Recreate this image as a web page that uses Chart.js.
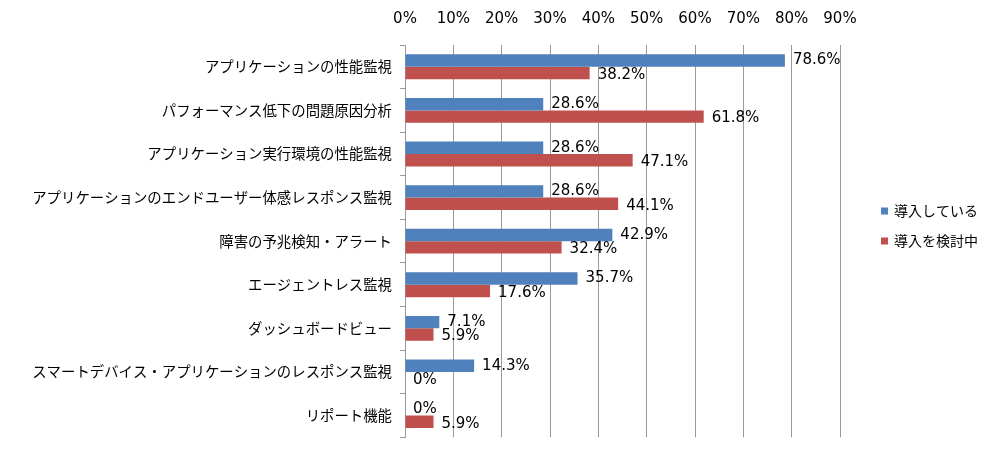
<!DOCTYPE html>
<html>
<head>
<meta charset="utf-8">
<script src="https://cdn.jsdelivr.net/npm/chart.js@4"></script>
<style>
html,body{margin:0;padding:0;background:#fff;}
#wrap{width:1000px;height:454px;position:relative;}
</style>
</head>
<body>
<div id="wrap"><canvas id="c" width="1000" height="454"></canvas></div>
<script>
const categories = [
  "アプリケーションの性能監視",
  "パフォーマンス低下の問題原因分析",
  "アプリケーション実行環境の性能監視",
  "アプリケーションのエンドユーザー体感レスポンス監視",
  "障害の予兆検知・アラート",
  "エージェントレス監視",
  "ダッシュボードビュー",
  "スマートデバイス・アプリケーションのレスポンス監視",
  "リポート機能"
];
const seriesNames = ["導入している", "導入を検討中"];
const introduced = [78.6, 28.6, 28.6, 28.6, 42.9, 35.7, 7.1, 14.3, 0];
const considering = [38.2, 61.8, 47.1, 44.1, 32.4, 17.6, 5.9, 0, 5.9];
const valueLabels = [
  ["78.6%","28.6%","28.6%","28.6%","42.9%","35.7%","7.1%","14.3%","0%"],
  ["38.2%","61.8%","47.1%","44.1%","32.4%","17.6%","5.9%","0%","5.9%"]
];
const xTicks = [0,10,20,30,40,50,60,70,80,90];

const labelPlugin = {
  id: 'valueLabels',
  afterDatasetsDraw(chart) {
    const ctx = chart.ctx;
    ctx.save();
    ctx.font = '15px "DejaVu Sans", Verdana, sans-serif';
    ctx.fillStyle = '#000';
    ctx.textAlign = 'left';
    ctx.textBaseline = 'middle';
    chart.data.datasets.forEach((ds, di) => {
      const meta = chart.getDatasetMeta(di);
      meta.data.forEach((bar, i) => {
        const dy = di === 0 ? 0 : 2;
        ctx.fillText(valueLabels[di][i], bar.x + 8, bar.y + dy);
      });
    });
    ctx.restore();
  }
};

const legendPlugin = {
  id: 'sideLegend',
  afterDraw(chart) {
    const ctx = chart.ctx;
    ctx.save();
    ctx.font = '14px "Noto Sans CJK JP", sans-serif';
    ctx.textAlign = 'left';
    ctx.textBaseline = 'middle';
    const x = 881, y0 = 211, step = 30, box = 7;
    chart.data.datasets.forEach((ds, di) => {
      const y = y0 + di * step;
      ctx.fillStyle = ds.backgroundColor;
      ctx.fillRect(x, y - box / 2, box, box);
      ctx.fillStyle = '#000';
      ctx.fillText(ds.label, x + box + 6, y);
    });
    ctx.restore();
  }
};

new Chart(document.getElementById('c'), {
  type: 'bar',
  data: {
    labels: categories,
    datasets: [
      { label: seriesNames[0], data: introduced, backgroundColor: '#4F81BD', borderWidth: 0 },
      { label: seriesNames[1], data: considering, backgroundColor: '#C0504D', borderWidth: 0 }
    ]
  },
  options: {
    indexAxis: 'y',
    responsive: false,
    animation: false,
    devicePixelRatio: 1,
    layout: { padding: { left: 0, right: 160, top: 0, bottom: 14 } },
    datasets: { bar: { categoryPercentage: 0.57, barPercentage: 1.0 } },
    scales: {
      x: {
        position: 'top',
        min: 0, max: 90,
        afterBuildTicks(scale) { scale.ticks = xTicks.map(v => ({ value: v })); },
        afterFit(scale) { scale.height = 45; },
        ticks: {
          callback: v => v + '%',
          font: { family: '"DejaVu Sans", Verdana, sans-serif', size: 15 },
          color: '#000',
          padding: 17
        },
        grid: { color: '#9a9a9a', lineWidth: 1, drawTicks: false },
        border: { display: false }
      },
      y: {
        afterFit(scale) { scale.width = 405; },
        ticks: {
          font: { family: '"Noto Sans CJK JP", sans-serif', size: 14.4 },
          color: '#000',
          padding: 8
        },
        grid: { offset: true, drawOnChartArea: false, drawTicks: true, tickLength: 5, color: '#9a9a9a' },
        border: { display: true, color: '#9a9a9a' }
      }
    },
    plugins: {
      legend: { display: false },
      tooltip: { enabled: false }
    }
  },
  plugins: [labelPlugin, legendPlugin]
});
</script>
</body>
</html>
